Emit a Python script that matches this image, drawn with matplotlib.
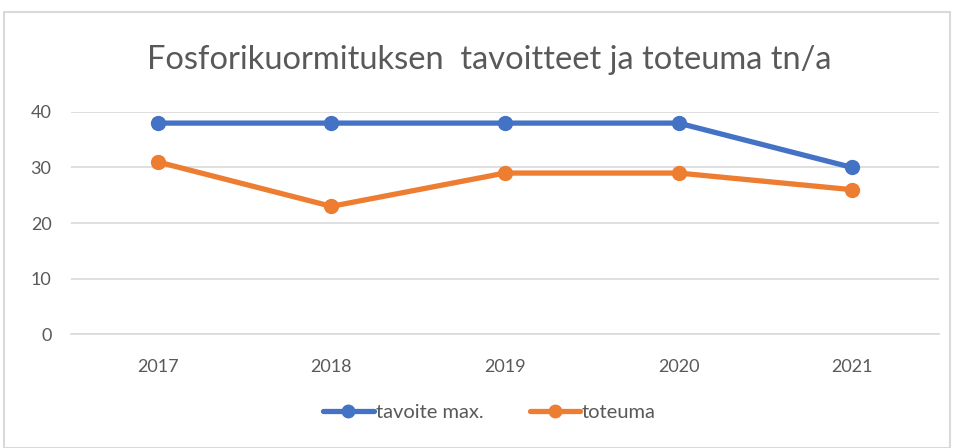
import matplotlib.pyplot as plt
from matplotlib.patches import Rectangle

years = ['2017', '2018', '2019', '2020', '2021']
tavoite = [38, 38, 38, 38, 30]
toteuma = [31, 23, 29, 29, 26]

plt.rcParams['font.family'] = ['Lato', 'DejaVu Sans']

fig = plt.figure(figsize=(9.58, 4.48), dpi=100)
ax = fig.add_axes([71/958, 1 - 334/448, (939 - 71)/958, (334 - 112)/448])

x = range(len(years))
ax.plot(x, tavoite, color='#4472c4', linewidth=3.8, marker='o', markersize=10,
        solid_capstyle='round', label='tavoite max.')
ax.plot(x, toteuma, color='#ed7d31', linewidth=3.8, marker='o', markersize=10,
        solid_capstyle='round', label='toteuma')

ax.set_xlim(-0.5, len(years) - 0.5)
ax.set_ylim(0, 40)
ax.set_yticks([0, 10, 20, 30, 40])
ax.set_xticks(list(x))
ax.set_xticklabels(years)
ax.grid(axis='y', color='#d9d9d9', linewidth=1.2)
ax.set_axisbelow(True)
for s in ['top', 'right', 'left']:
    ax.spines[s].set_visible(False)
ax.spines['bottom'].set_color('#d9d9d9')
ax.spines['bottom'].set_linewidth(1.2)
ax.tick_params(length=0, colors='#595959', labelsize=13)
ax.tick_params(axis='x', pad=18)
ax.tick_params(axis='y', pad=14)

fig.text(0.511, 1 - 60/448, 'Fosforikuormituksen  tavoitteet ja toteuma tn/a',
         ha='center', va='center', fontsize=23.5, color='#595959')

fig.legend(loc='center', bbox_to_anchor=(0.511, 1 - 412/448), ncol=2, frameon=False,
           fontsize=14.5, labelcolor='#595959', handlelength=2.5, columnspacing=2.3,
           handletextpad=0.1, markerscale=0.9)

fig.patches.append(Rectangle((4/958, 0), 946/958, 1 - 12/448, transform=fig.transFigure,
                             fill=False, edgecolor='#d9d9d9', linewidth=1.5))

fig.savefig('out.png', dpi=100)
